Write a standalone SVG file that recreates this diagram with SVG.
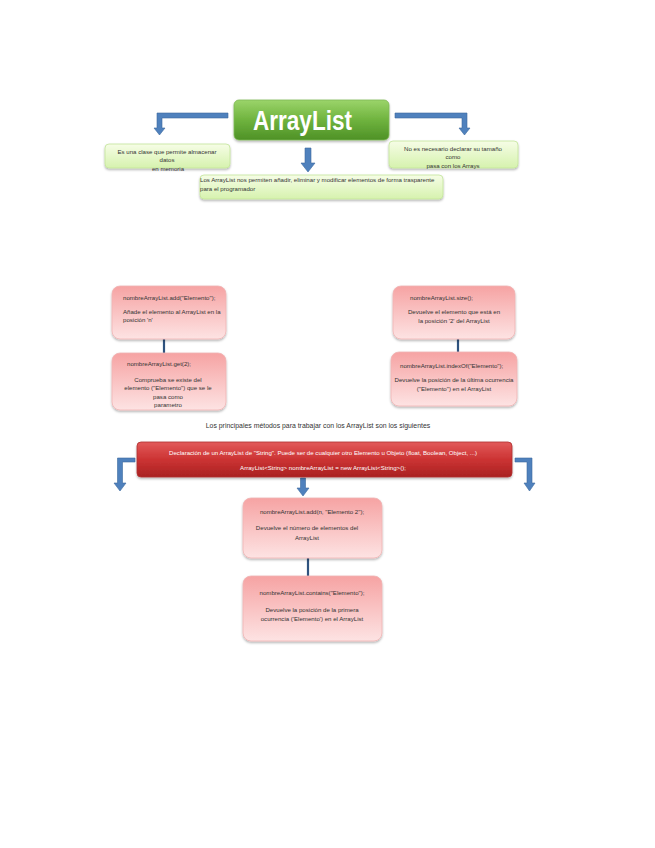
<svg xmlns="http://www.w3.org/2000/svg" width="655" height="848" viewBox="0 0 655 848">
<defs>
<linearGradient id="gTitle" x1="0" y1="0" x2="0" y2="1"><stop offset="0" stop-color="#9bd46a"/><stop offset="0.5" stop-color="#6fb33e"/><stop offset="1" stop-color="#4e9126"/></linearGradient>
<linearGradient id="gLight" x1="0" y1="0" x2="0" y2="1"><stop offset="0" stop-color="#f6fde6"/><stop offset="1" stop-color="#d6f2ae"/></linearGradient>
<linearGradient id="gPink" x1="0" y1="0" x2="0" y2="1"><stop offset="0" stop-color="#f6a3a3"/><stop offset="1" stop-color="#fde3e3"/></linearGradient>
<linearGradient id="gRed" x1="0" y1="0" x2="0" y2="1"><stop offset="0" stop-color="#e25a5a"/><stop offset="0.5" stop-color="#cc3333"/><stop offset="1" stop-color="#a92222"/></linearGradient>
<filter id="sh" x="-10%" y="-10%" width="120%" height="130%"><feDropShadow dx="0" dy="1.5" stdDeviation="1.2" flood-color="#000" flood-opacity="0.3"/></filter>
</defs>
<style>
text{font-family:"Liberation Sans",Arial,sans-serif;font-size:6.1px;fill:#333}
.c{text-anchor:middle}
.w{fill:#fff}
.light{fill:url(#gLight);stroke:#c3e59a;stroke-width:0.8}
.pink{fill:url(#gPink);stroke:#f0b4b4;stroke-width:0.8}
.arrow{fill:#4f81bd;stroke:#3d6a9e;stroke-width:0.6}
.conn{stroke:#2f537f;stroke-width:2.2;fill:none}
</style>
<rect width="655" height="848" fill="#fff"/>

<g id="connectors">
<polygon class="arrow" points="228,113 157,113 157,128 154,128 159.5,135 165,128 162,128 162,118 228,118"/>
<polygon class="arrow" points="395,113 467,113 467,128 470,128 464.5,135 459,128 462,128 462,118 395,118"/>
<polygon class="arrow" points="305,148 311,148 311,163 315,163 308,172 301,163 305,163"/>
<line class="conn" x1="164" y1="339" x2="164" y2="353"/>
<line class="conn" x1="458" y1="339" x2="458" y2="352"/>
<polygon class="arrow" points="135,458 117.5,458 117.5,483 114,483 120,491 126,483 122.5,483 122.5,462 135,462"/>
<polygon class="arrow" points="515,458 532,458 532,483 535,483 529.5,491 524,483 527,483 527,462 515,462"/>
<polygon class="arrow" points="300.5,478 305.5,478 305.5,488 309,488 303,496 297,488 300.5,488"/>
<line class="conn" x1="308" y1="558" x2="308" y2="576"/>
</g>

<g id="title">
<rect x="234" y="100" width="155" height="40" rx="5" fill="url(#gTitle)" stroke="#7fb955" stroke-width="0.8" filter="url(#sh)"/>
<text x="302.5" y="130" class="c w" style="font-size:27px;font-weight:bold" textLength="99" lengthAdjust="spacingAndGlyphs">ArrayList</text>
</g>

<g id="n-clase">
<rect class="light" x="105" y="144" width="125" height="24" rx="4" filter="url(#sh)"/>
<text x="167" y="154" class="c">Es una clase que permite almacenar</text>
<text x="167" y="162" class="c">datos</text>
<text x="168" y="171" class="c">en memoria</text>
</g>

<g id="n-tamano">
<rect class="light" x="389" y="141" width="129" height="27" rx="4" filter="url(#sh)"/>
<text x="453" y="151" class="c">No es necesario declarar su tamaño</text>
<text x="453" y="159" class="c">como</text>
<text x="453" y="168" class="c">pasa con los Arrays</text>
</g>

<g id="n-permiten">
<rect class="light" x="200" y="175" width="243" height="24" rx="4" filter="url(#sh)"/>
<text x="200" y="182">Los ArrayList nos permiten añadir, eliminar y modificar elementos de forma trasparente</text>
<text x="200" y="191">para el programador</text>
</g>

<g id="n-add">
<rect class="pink" x="112" y="286" width="114" height="53" rx="8" filter="url(#sh)"/>
<text x="123" y="300">nombreArrayList.add("Elemento");</text>
<text x="123" y="314">Añade el elemento al ArrayList en la</text>
<text x="123" y="322">posición 'n'</text>
</g>

<g id="n-get">
<rect class="pink" x="112" y="353" width="114" height="57" rx="8" filter="url(#sh)"/>
<text x="127" y="366">nombreArrayList.get(2);</text>
<text x="168" y="382" class="c">Comprueba se existe del</text>
<text x="168" y="390" class="c">elemento ("Elemento") que se le</text>
<text x="168" y="399" class="c">pasa como</text>
<text x="168" y="407" class="c">parametro</text>
</g>

<g id="n-size">
<rect class="pink" x="393" y="286" width="122" height="53" rx="8" filter="url(#sh)"/>
<text x="410" y="300">nombreArrayList.size();</text>
<text x="454" y="314" class="c">Devuelve el elemento que está en</text>
<text x="454" y="323" class="c">la posición '2' del ArrayList</text>
</g>

<g id="n-indexof">
<rect class="pink" x="391" y="352" width="126" height="54" rx="8" filter="url(#sh)"/>
<text x="400" y="368">nombreArrayList.indexOf("Elemento");</text>
<text x="454" y="382" class="c">Devuelve la posición de la última ocurrencia</text>
<text x="454" y="391" class="c">("Elemento") en el ArrayList</text>
</g>

<g id="heading">
<text x="318" y="428" class="c" style="font-size:6.9px">Los principales métodos para trabajar con los ArrayList son los siguientes</text>
</g>

<g id="n-declaracion">
<rect x="137" y="442" width="375" height="35" rx="4" fill="url(#gRed)" stroke="#b03030" stroke-width="0.8" filter="url(#sh)"/>
<text x="323" y="455" class="c w">Declaración de un ArrayList de "String". Puede ser de cualquier otro Elemento u Objeto (float, Boolean, Object, ...)</text>
<text x="323" y="470" class="c w">ArrayList&lt;String&gt; nombreArrayList = new ArrayList&lt;String&gt;();</text>
</g>

<g id="n-addn">
<rect class="pink" x="243" y="498" width="139" height="60" rx="8" filter="url(#sh)"/>
<text x="312" y="514" class="c">nombreArrayList.add(n, "Elemento 2");</text>
<text x="307" y="530" class="c">Devuelve el número de elementos del</text>
<text x="307" y="540" class="c">ArrayList</text>
</g>

<g id="n-contains">
<rect class="pink" x="243" y="576" width="139" height="65" rx="8" filter="url(#sh)"/>
<text x="312" y="595" class="c">nombreArrayList.contains("Elemento");</text>
<text x="312" y="612" class="c">Devuelve la posición de la primera</text>
<text x="312" y="621" class="c">ocurrencia ('Elemento') en el ArrayList</text>
</g>
</svg>
